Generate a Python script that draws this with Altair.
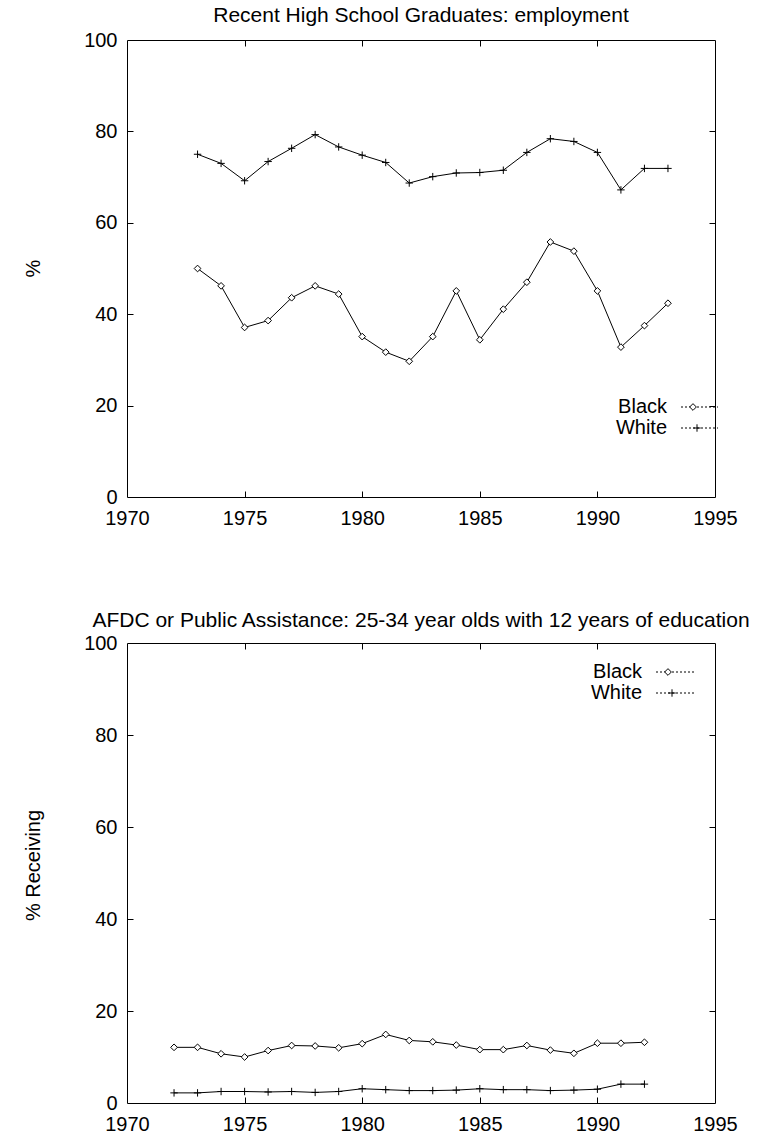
import altair as alt
import pandas as pd

# ---------------- data ----------------
series = ["Black", "White"]

years_emp = list(range(1973, 1994))
black_emp = [50.0, 46.2, 37.1, 38.6, 43.6, 46.2, 44.4, 35.1, 31.7, 29.7, 35.1,
             45.1, 34.4, 41.1, 47.0, 55.8, 53.8, 45.1, 32.8, 37.5, 42.4]
white_emp = [75.0, 73.0, 69.2, 73.4, 76.3, 79.3, 76.6, 74.8, 73.2, 68.7, 70.1,
             70.9, 71.0, 71.5, 75.4, 78.4, 77.8, 75.4, 67.2, 71.9, 71.9]

years_afdc = list(range(1972, 1993))
black_afdc = [12.1, 12.1, 10.7, 10.0, 11.4, 12.5, 12.4, 12.0, 12.9, 14.9, 13.6,
              13.3, 12.6, 11.6, 11.6, 12.5, 11.5, 10.8, 13.0, 13.0, 13.2]
white_afdc = [2.2, 2.2, 2.5, 2.5, 2.4, 2.5, 2.3, 2.5, 3.1, 2.9, 2.7,
              2.7, 2.8, 3.1, 2.9, 2.9, 2.7, 2.8, 3.0, 4.1, 4.1]

x_ticks = [1970, 1975, 1980, 1985, 1990, 1995]
y_ticks = [0, 20, 40, 60, 80, 100]
inner_x = [1975, 1980, 1985, 1990]
inner_y = [20, 40, 60, 80]

title_top = "Recent High School Graduates: employment"
title_bot = "AFDC or Public Assistance: 25-34 year olds with 12 years of education"

# ---------------- styling ----------------
FONT = "Liberation Sans"
FS = 20
TFS = 21
W = 588
PLUS = "M-1,0L1,0M0,-1L0,1"


def tick_axis(orient, vals):
    return alt.Axis(values=vals, orient=orient, offset=-6, tickSize=6,
                    labels=False, domain=False, grid=False, title=None,
                    tickColor="black", tickWidth=1)


def panel(years, black, white, title, ytitle, H, title_offset, ytitle_y, leg):
    df = pd.DataFrame({
        "year": years + years,
        "value": black + white,
        "series": [series[0]] * len(years) + [series[1]] * len(years),
    })
    xs = alt.Scale(domain=[1970, 1995], nice=False, zero=False)
    ys = alt.Scale(domain=[0, 100], nice=False)
    base = alt.Chart(df)

    x_main = alt.X("year:Q", scale=xs, axis=alt.Axis(
        values=x_ticks, format="d", orient="bottom", domain=False, ticks=False,
        grid=False, labelPadding=11, labelFontSize=FS, labelFont=FONT,
        labelColor="black", title=None, labelFlush=False))
    y_main = alt.Y("value:Q", scale=ys, axis=alt.Axis(
        values=y_ticks, orient="left", domain=False, ticks=False, grid=False,
        labelPadding=10, labelFontSize=FS, labelFont=FONT, labelColor="black",
        title=ytitle, titleX=-94, titleY=ytitle_y, titleAngle=270,
        titleFontSize=FS, titleFont=FONT, titleFontWeight="normal",
        titleColor="black", titleAlign="center", titleBaseline="middle",
        labelFlush=False))

    lines = base.mark_line(color="black", strokeWidth=1).encode(
        x=x_main, y=y_main, detail="series:N")

    pts_b = base.transform_filter(alt.datum.series == series[0]).mark_point(
        shape="diamond", size=45, filled=True, fill="white", stroke="black",
        strokeWidth=1, opacity=1).encode(
        x=alt.X("year:Q", scale=xs, axis=tick_axis("bottom", inner_x)),
        y=alt.Y("value:Q", scale=ys, axis=tick_axis("left", inner_y)))

    pts_w = base.transform_filter(alt.datum.series == series[1]).mark_point(
        shape=PLUS, size=55, filled=False, color="black", strokeWidth=1,
        opacity=1).encode(
        x=alt.X("year:Q", scale=xs, axis=tick_axis("top", inner_x)),
        y=alt.Y("value:Q", scale=ys, axis=tick_axis("right", inner_y)))

    # legend (drawn entries)
    tx, lx1, lx2, mx, yb, yw = leg
    layers = [lines, pts_b, pts_w]
    for name, yy, shape in [(series[0], yb, "diamond"), (series[1], yw, PLUS)]:
        ldf = pd.DataFrame({"series": [name]})
        lb = alt.Chart(ldf)
        layers.append(lb.mark_text(align="right", baseline="middle",
                                   fontSize=FS, font=FONT, color="black").encode(
            x=alt.value(tx), y=alt.value(yy), text="series:N"))
        layers.append(lb.mark_rule(color="black", strokeWidth=1,
                                   strokeDash=[2, 2]).encode(
            x=alt.value(lx1), x2=alt.value(lx2), y=alt.value(yy)))
        if shape == "diamond":
            layers.append(lb.mark_point(shape="diamond", size=45, filled=True,
                                        fill="white", stroke="black",
                                        strokeWidth=1, opacity=1).encode(
                x=alt.value(mx), y=alt.value(yy)))
        else:
            layers.append(lb.mark_point(shape=PLUS, size=55, filled=False,
                                        color="black", strokeWidth=1,
                                        opacity=1).encode(
                x=alt.value(mx + 4), y=alt.value(yy)))

    return alt.layer(*layers).resolve_axis(
        x="independent", y="independent").properties(
        width=W, height=H,
        title=alt.TitleParams(title, fontSize=TFS, font=FONT,
                              fontWeight="normal", offset=title_offset,
                              anchor="middle", color="black"))


top = panel(years_emp, black_emp, white_emp, title_top, "%", 457, 4, 228,
            (540, 554, 591, 566, 367, 388))
bot = panel(years_afdc, black_afdc, white_afdc, title_bot, "% Receiving", 460,
            2, 222, (515, 529, 568, 541, 29, 50))

chart = alt.vconcat(top, bot, spacing=146, bounds="flush").properties(
    autosize=alt.AutoSizeParams(type="none"),
    padding={"left": 127, "top": 40, "right": 55, "bottom": 1099},
    background="white",
).configure_view(stroke="black", strokeWidth=1)

chart.save("out.html", embed_options={"renderer": "svg", "actions": False})
